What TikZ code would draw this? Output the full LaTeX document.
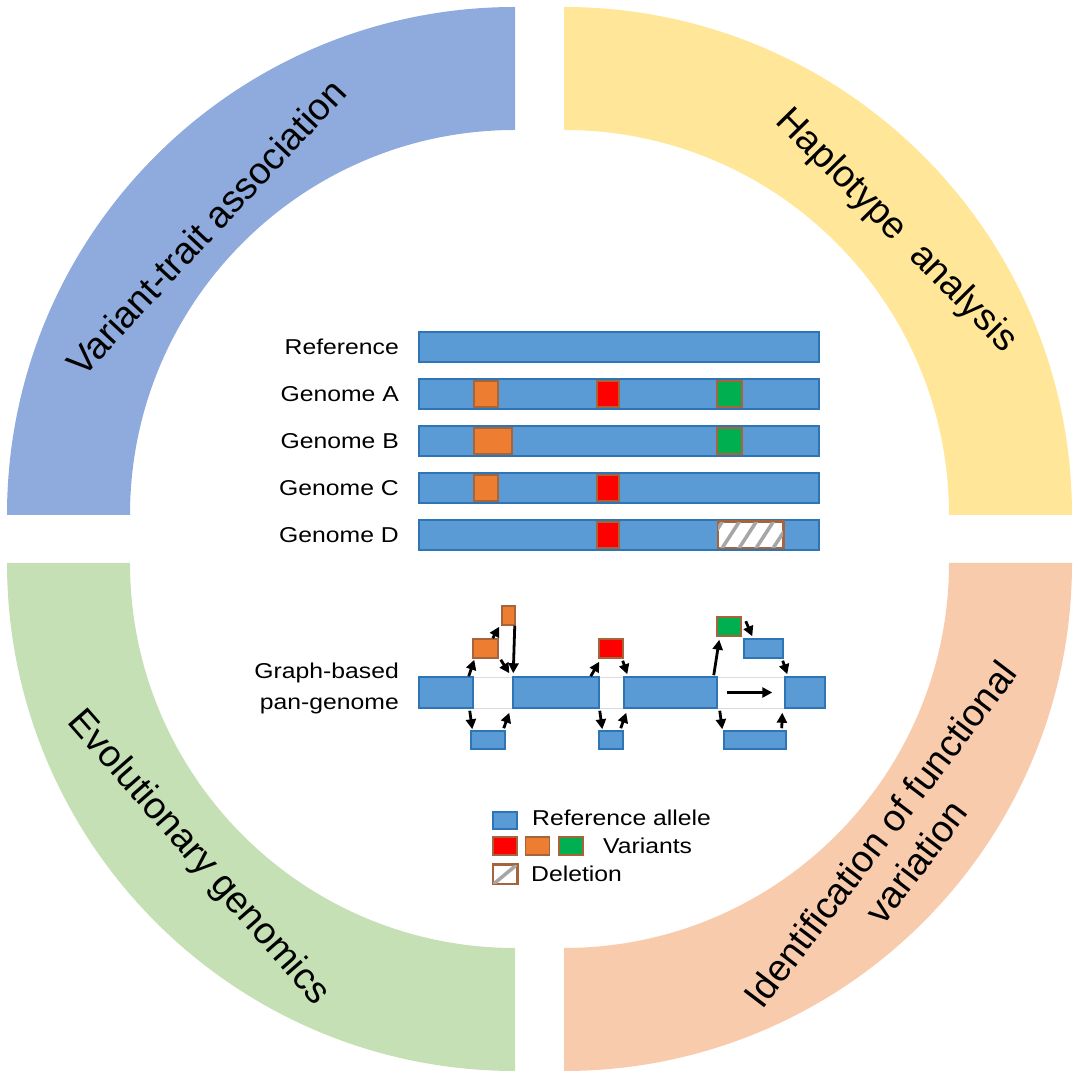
\documentclass[tikz,border=0pt]{standalone}
\usepackage{fontspec}
\setmainfont{Liberation Sans}
\newfontfamily\labfont[FakeStretch=1.15]{Liberation Sans}
\usetikzlibrary{arrows.meta}
\definecolor{ringblue}{RGB}{143,170,220}
\definecolor{ringyellow}{RGB}{255,230,153}
\definecolor{ringgreen}{RGB}{197,224,180}
\definecolor{ringpeach}{RGB}{248,203,173}
\definecolor{barfill}{RGB}{91,155,213}
\definecolor{barline}{RGB}{46,117,182}
\definecolor{varorange}{RGB}{237,125,49}
\definecolor{varred}{RGB}{255,0,0}
\definecolor{vargreen}{RGB}{0,176,80}
\definecolor{varline}{RGB}{165,100,60}
\definecolor{hatchgray}{RGB}{166,166,166}
\definecolor{gapline}{RGB}{220,220,220}
\tikzset{
  bar/.style={draw=barline, fill=barfill, line width=1.5pt, inner sep=0pt, minimum height=30pt},
  varbox/.style={draw=varline, line width=1.5pt, inner sep=0pt, minimum height=26pt},
  gapbox/.style={draw=gapline, fill=white, line width=0.6pt, inner sep=0pt, minimum height=31pt},
  arr/.style={-{Triangle[length=10pt,width=10pt]}, line width=2.8pt, black},
  lab/.style={font=\labfont\fontsize{21.5}{31}\selectfont, inner sep=0pt},
  quad/.style={font=\fontsize{37.5}{45}\selectfont, inner sep=0pt, align=center},
  hatch/.style={draw=hatchgray, line width=3.5pt},
}
\begin{document}
\begin{tikzpicture}[x=1pt,y=1pt]
\useasboundingbox (0,0) rectangle (1080,1076);
% rings
\fill[ringblue] (515,1069) arc[start angle=90,end angle=180,radius=508] -- (130,561) arc[start angle=180,end angle=90,radius=385] -- cycle;
\fill[ringyellow] (564,1069) arc[start angle=90,end angle=0,radius=508] -- (949,561) arc[start angle=0,end angle=90,radius=385] -- cycle;
\fill[ringgreen] (7,513) arc[start angle=180,end angle=270,radius=508] -- (515,128) arc[start angle=270,end angle=180,radius=385] -- cycle;
\fill[ringpeach] (564,5) arc[start angle=270,end angle=360,radius=508] -- (949,513) arc[start angle=360,end angle=270,radius=385] -- cycle;
% quadrant labels
\node[quad, rotate=47] (qvta) at (206,849) {Variant-trait association};
\node[quad, rotate=-45.4] (qha) at (896,845) {Haplotype~ analysis};
\node[quad, rotate=-48.8] (qeg) at (198,218) {Evolutionary genomics};
\node[quad, rotate=52.7] (qif) at (898,228) {Identification of functional\\variation};
% genome rows
\node[bar, minimum width=400pt] (ref) at (619,729) {};
\node[bar, minimum width=400pt] (ga) at (619,682) {};
\node[bar, minimum width=400pt] (gb) at (619,635) {};
\node[bar, minimum width=400pt] (gc) at (619,588) {};
\node[bar, minimum width=400pt] (gd) at (619,541) {};
\node[lab, anchor=base east] (lref) at (399,721.5) {Reference};
\node[lab, anchor=base east] (lga) at (399,674.5) {Genome A};
\node[lab, anchor=base east] (lgb) at (399,627.5) {Genome B};
\node[lab, anchor=base east] (lgc) at (399,580.5) {Genome C};
\node[lab, anchor=base east] (lgd) at (399,533.5) {Genome D};
% variants
\node[varbox, fill=varorange, minimum width=24pt] (ao) at (486,682) {};
\node[varbox, fill=varred, minimum width=22pt] (ar) at (608,682) {};
\node[varbox, fill=vargreen, minimum width=25pt] (ag) at (729.5,682) {};
\node[varbox, fill=varorange, minimum width=38pt] (bo) at (493,635) {};
\node[varbox, fill=vargreen, minimum width=25pt] (bg) at (729.5,635) {};
\node[varbox, fill=varorange, minimum width=24pt] (co) at (486,588) {};
\node[varbox, fill=varred, minimum width=22pt] (cr) at (608,588) {};
\node[varbox, fill=varred, minimum width=22pt] (dr) at (608,541) {};
\node[varbox, fill=white, minimum width=65pt] (dd) at (750.5,541) {};
\begin{scope}
\clip (dd.south west) rectangle (dd.north east);
\foreach \xo in {700,717,734,751,768,785} \draw[hatch] (\xo,520) -- (\xo+26,560);
\end{scope}
\draw[draw=varline, line width=1.5pt] (dd.south west) rectangle (dd.north east);
% graph-based pan-genome
\node[lab, anchor=east, align=right] (lgraph) at (399,388) {Graph-based\\pan-genome};
\node[gapbox, minimum width=40pt] (g1) at (493,383.5) {};
\node[gapbox, minimum width=25pt] (g2) at (611.5,383.5) {};
\node[gapbox, minimum width=68pt] (g3) at (751,383.5) {};
\node[bar, minimum height=31pt, minimum width=54pt] (s1) at (446,383.5) {};
\node[bar, minimum height=31pt, minimum width=86pt] (s2) at (556,383.5) {};
\node[bar, minimum height=31pt, minimum width=93pt] (s3) at (670.5,383.5) {};
\node[bar, minimum height=31pt, minimum width=40pt] (s4) at (805,383.5) {};
\node[varbox, fill=varorange, minimum width=25pt, minimum height=19pt] (o1) at (485.5,427.5) {};
\node[varbox, fill=varorange, minimum width=13pt, minimum height=19pt] (o2) at (508.5,460.5) {};
\node[varbox, fill=varred, minimum width=24pt, minimum height=19pt] (r1) at (611,427.5) {};
\node[varbox, fill=vargreen, minimum width=24pt, minimum height=19pt] (gr) at (729,449.5) {};
\node[bar, minimum width=39pt, minimum height=19pt] (bt) at (763.5,427.5) {};
\node[bar, minimum width=34pt, minimum height=18pt] (b1) at (488,336) {};
\node[bar, minimum width=24pt, minimum height=18pt] (b2) at (611,336) {};
\node[bar, minimum width=62pt, minimum height=18pt] (b3) at (755,336) {};
% arrows
\draw[arr] ([xshift=-5pt]s1.north east) -- ([xshift=2pt,yshift=-1pt]o1.south west);
\draw[arr] ([xshift=-6pt]o1.north east) -- ([xshift=-2pt,yshift=-1pt]o2.south west);
\draw[arr] ([xshift=-1pt]o2.south east) -- ([xshift=1pt,yshift=3pt]s2.north west);
\draw[arr] ([xshift=2pt,yshift=-1pt]o1.south east) -- ([xshift=-3pt,yshift=3pt]s2.north west);
\draw[arr] ([xshift=-4pt,yshift=-2pt]s1.south east) -- ([xshift=2pt,yshift=1pt]b1.north west);
\draw[arr] ([xshift=-2pt,yshift=2pt]b1.north east) -- ([xshift=-3pt,yshift=-4pt]s2.south west);
\draw[arr] ([xshift=-9pt]s2.north east) -- ([xshift=1pt,yshift=-3pt]r1.south west);
\draw[arr] ([xshift=-1pt,yshift=-2pt]r1.south east) -- ([xshift=4pt,yshift=2pt]s3.north west);
\draw[arr] ([yshift=-2pt]s2.south east) -- ([xshift=4pt,yshift=1pt]b2.north west);
\draw[arr] ([xshift=-3pt,yshift=2pt]b2.north east) -- ([xshift=3pt,yshift=-4pt]s3.south west);
\draw[arr] ([xshift=-4pt,yshift=1pt]s3.north east) -- ([xshift=3pt,yshift=-3pt]gr.south west);
\draw[arr] ([xshift=4pt,yshift=-5pt]gr.north east) -- ([xshift=9pt,yshift=2pt]bt.north west);
\draw[arr] ([xshift=-1pt,yshift=-2pt]bt.south east) -- ([xshift=3pt,yshift=2pt]s4.north west);
\draw[arr] ([xshift=10pt]g3.west) -- ([xshift=-13pt]g3.east);
\draw[arr] ([xshift=2pt,yshift=-2pt]s3.south east) -- ([xshift=-1pt,yshift=1pt]b3.north west);
\draw[arr] ([xshift=-5pt,yshift=2pt]b3.north east) -- ([xshift=-2pt,yshift=-4pt]s4.south west);
% legend
\node[bar, minimum width=24pt, minimum height=17pt] (lb) at (505,255.5) {};
\node[varbox, fill=varred, minimum width=24pt, minimum height=18pt] (lr) at (505,230) {};
\node[varbox, fill=varorange, minimum width=24pt, minimum height=18pt] (lo) at (537.5,230) {};
\node[varbox, fill=vargreen, minimum width=24pt, minimum height=18pt] (lg) at (571,230) {};
\node[varbox, fill=white, minimum width=24pt, minimum height=19pt] (ld) at (505,201.5) {};
\begin{scope}
\clip (ld.south west) rectangle (ld.north east);
\draw[hatch] ([xshift=-2pt,yshift=-2pt]ld.south west) -- ([xshift=2pt,yshift=2pt]ld.north east);
\end{scope}
\draw[draw=varline, line width=1.5pt] (ld.south west) rectangle (ld.north east);
\node[lab, anchor=base west] (tref) at (532,250) {Reference allele};
\node[lab, anchor=base west] (tvar) at (603,222) {Variants};
\node[lab, anchor=base west] (tdel) at (531,194) {Deletion};
\end{tikzpicture}
\end{document}
